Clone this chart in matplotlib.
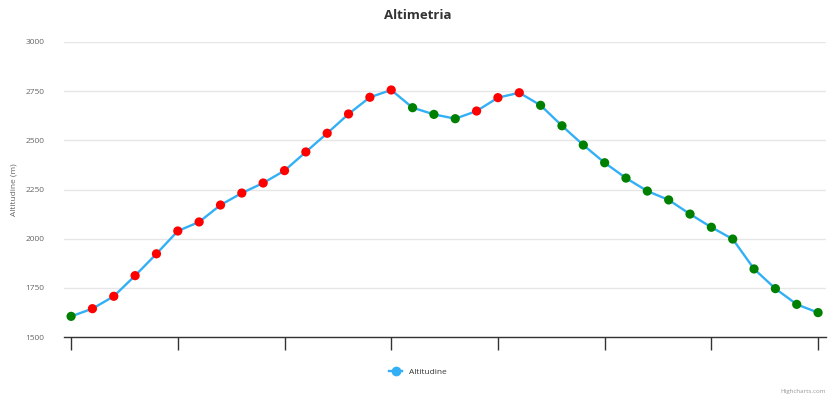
import matplotlib.pyplot as plt
from matplotlib.lines import Line2D

plt.rcParams['font.family'] = ['Open Sans', 'DejaVu Sans']

# altitudine per punto (m)
altitudine = [1605, 1644, 1707, 1812, 1923, 2039, 2085, 2171, 2232, 2283,
              2346, 2441, 2536, 2634, 2719, 2756, 2666, 2632, 2610, 2649,
              2717, 2742, 2678, 2574, 2476, 2386, 2308, 2242, 2197, 2125,
              2058, 1998, 1846, 1746, 1666, 1624]
y_ticks = [1500, 1750, 2000, 2250, 2500, 2750, 3000]

lineColor = '#33b0f5'

fig = plt.figure(figsize=(8.36, 4), dpi=100)
ax = fig.add_axes([0.0766, 0.1575, 0.9114, 0.7375])

x = list(range(len(altitudine)))
ax.plot(x, altitudine, color=lineColor, lw=1.7, zorder=2)

# rosso in salita, verde in discesa
colors = ['green'] + ['red' if altitudine[i] > altitudine[i - 1] else 'green'
                      for i in range(1, len(altitudine))]
ax.scatter(x, altitudine, c=colors, s=44, zorder=3, edgecolors='none')

ax.set_xlim(-0.33, len(altitudine) - 1 + 0.37)
ax.set_ylim(1500, 3000)
ax.set_yticks(y_ticks)
ax.set_xticks(x[::5])
ax.set_xticklabels([''] * len(x[::5]))

ax.grid(axis='y', color='#e6e6e6', lw=1, zorder=0)
for s in ['top', 'right', 'left']:
    ax.spines[s].set_visible(False)
ax.spines['bottom'].set_color('#333333')
ax.spines['bottom'].set_linewidth(1)
ax.tick_params(axis='x', length=9, width=1, color='#333333', direction='out')
ax.tick_params(axis='y', length=0, labelsize=6, labelcolor='#666666', pad=14)

ax.set_ylabel('Altitudine (m)', fontsize=6, color='#666666', labelpad=6)

fig.text(0.5, 0.962, 'Altimetria', ha='center', va='center', fontsize=9.5,
         fontweight='bold', color='#333333')

h = Line2D([], [], color=lineColor, lw=1.7, marker='o', markersize=6)
fig.legend([h], ['Altitudine'], loc='center', bbox_to_anchor=(0.5, 0.07),
           frameon=False, fontsize=6, handlelength=1.6, labelcolor='#333333')

fig.text(0.988, 0.015, 'Highcharts.com', ha='right', va='bottom', fontsize=4.5,
         color='#999999')

plt.savefig('out.png', dpi=100)
